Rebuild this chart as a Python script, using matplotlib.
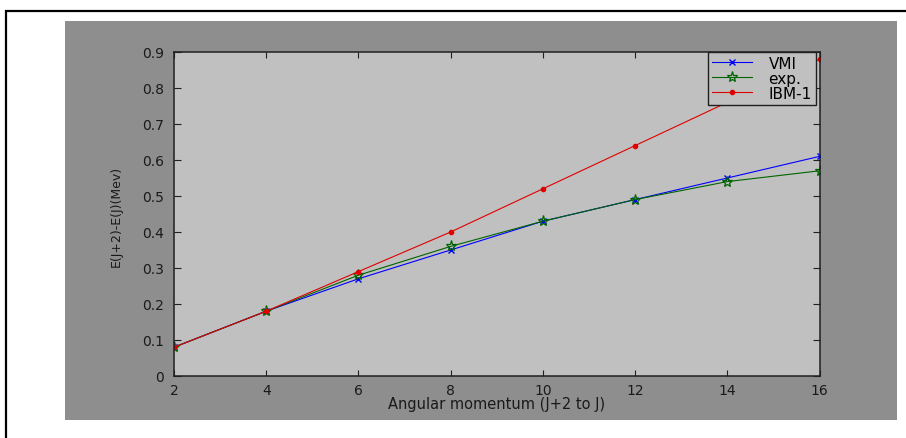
import numpy as np
import matplotlib
matplotlib.use("Agg")
import matplotlib.pyplot as plt
from matplotlib.patches import Rectangle

# Data
spin = [2, 4, 6, 8, 10, 12, 14, 16]
vmi = [0.08, 0.18, 0.27, 0.35, 0.43, 0.49, 0.55, 0.61]
expt = [0.08, 0.18, 0.28, 0.36, 0.43, 0.49, 0.54, 0.57]
ibm1 = [0.08, 0.18, 0.29, 0.40, 0.52, 0.64, 0.76, 0.88]
series_labels = ["VMI", "exp.", "IBM-1"]

W, H = 906, 439
plt.rcParams["font.family"] = ["DejaVu Sans"]

fig = plt.figure(figsize=(W / 100, H / 100), dpi=100, facecolor="white")

# Outer black frame and the grey figure panel (MATLAB look)
fig.patches.append(Rectangle((6 / W, -0.1), 1.2, (H - 12) / H + 0.1, transform=fig.transFigure,
                             fill=False, edgecolor="black", linewidth=1.6, zorder=0))
fig.patches.append(Rectangle((65 / W, (H - 421) / H), 832 / W, 399 / H, transform=fig.transFigure,
                             facecolor="#8e8e8e", edgecolor="none", zorder=0))

ax_left, ax_right, ax_top, ax_bottom = 174, 819.5, 53, 377
ax = fig.add_axes([ax_left / W, (H - ax_bottom) / H, (ax_right - ax_left) / W, (ax_bottom - ax_top) / H])
ax.set_zorder(2)
ax.set_facecolor("#c0c0c0")

ax.plot(spin, vmi, color="#0000ff", marker="x", markersize=5, linewidth=0.8, label=series_labels[0])
ax.plot(spin, expt, color="#006400", marker="*", markersize=8, markerfacecolor="none",
        markeredgewidth=0.9, linewidth=0.8, label=series_labels[1])
ax.plot(spin, ibm1, color="#e00000", marker=".", markersize=6, linewidth=0.8, label=series_labels[2])

ax.set_xlim(2, 16)
ax.set_ylim(0, 0.9)
ax.set_xticks(range(2, 17, 2))
ax.set_yticks(np.arange(0, 0.91, 0.1))
ax.set_yticklabels(["0"] + ["%.1f" % v for v in np.arange(0.1, 0.91, 0.1)])

for s in ax.spines.values():
    s.set_color("#202020")
    s.set_linewidth(1.1)

ax.tick_params(axis="both", direction="in", top=True, right=True, colors="#202020",
               labelsize=10, labelcolor="#1a1a1a", width=0.8)
ax.tick_params(axis="y", length=5, pad=7)
ax.tick_params(axis="x", length=4.3, pad=5)

fig.text(116 / W, (H - 216) / H, "E(J+2)-E(J)(Mev)", rotation=90, ha="center", va="center",
         fontsize=9, color="#1a1a1a", zorder=3)
fig.text(497 / W, (H - 404.5) / H, "Angular momentum (J+2 to J)", ha="center", va="center",
         fontsize=10.5, color="#1a1a1a", zorder=3)

leg_x = (ax_right - 4 - ax_left) / (ax_right - ax_left)
leg = ax.legend(loc="upper right", bbox_to_anchor=(leg_x, 1.0), borderaxespad=0,
                fancybox=False, shadow=False, framealpha=1, facecolor="#c0c0c0",
                edgecolor="#202020", fontsize=11, handlelength=2.6, handletextpad=1.1,
                labelspacing=0.0, borderpad=0.25)
leg.get_frame().set_linewidth(1.0)

fig.savefig("out.png", dpi=100, facecolor="white")
